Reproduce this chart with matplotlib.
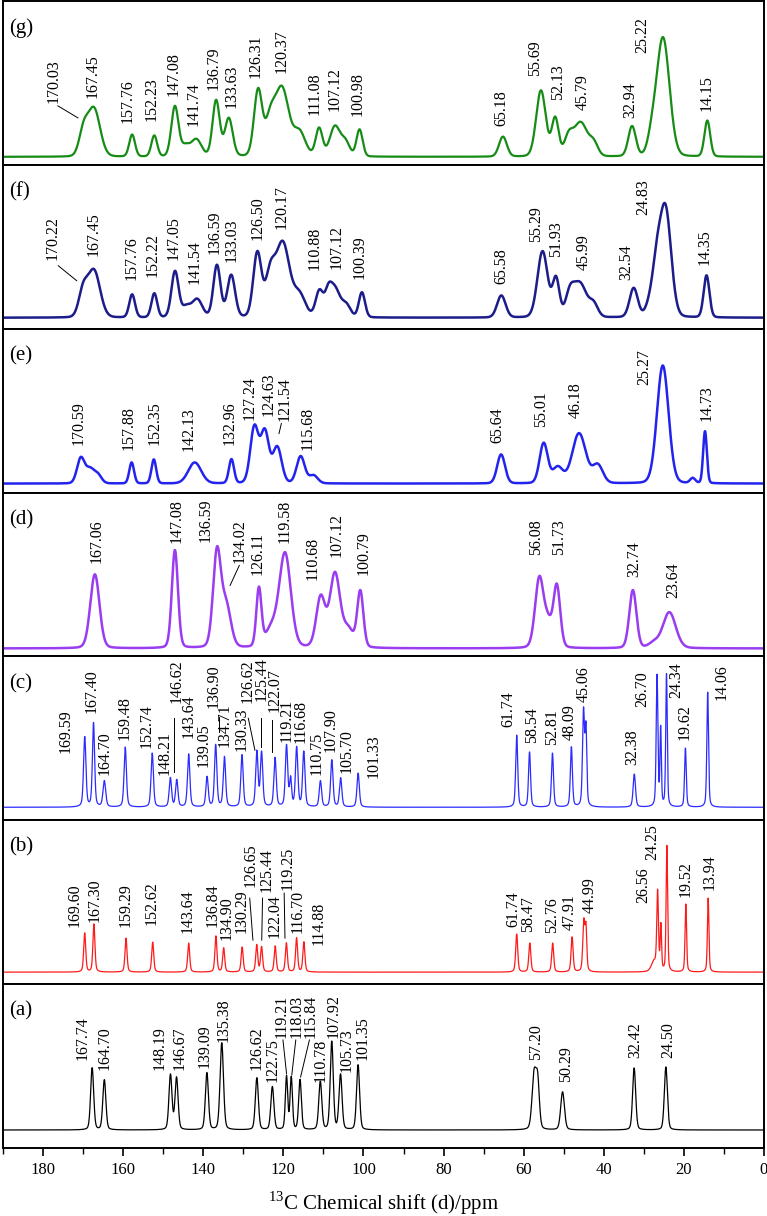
import numpy as np
import matplotlib
matplotlib.use("Agg")
import matplotlib.pyplot as plt
from matplotlib.ticker import MultipleLocator

plt.rcParams['font.family'] = ['Liberation Serif', 'DejaVu Serif']
plt.rcParams['mathtext.fontset'] = 'custom'
plt.rcParams['mathtext.rm'] = 'Liberation Serif'

# peaks: (ppm, height above baseline in px, FWHM in ppm)
G_PEAKS = [(169.9, 24, 2.6), (167.3, 48, 3.6), (157.76, 22, 1.7), (152.23, 21, 1.7),
           (147.08, 50, 2.1), (144.5, 10, 2.5), (141.74, 17, 3.0), (136.79, 56, 2.1),
           (133.63, 38, 2.3), (126.31, 66, 2.4), (123.3, 33, 2.8), (120.37, 68, 4.0),
           (116.0, 24, 3.5), (111.08, 28, 2.0), (107.12, 30, 3.0), (104.5, 14, 2.5),
           (100.98, 27, 1.8), (65.18, 20, 2.3), (55.69, 66, 2.8), (52.13, 38, 2.0),
           (48.8, 18, 2.5), (45.79, 34, 4.0), (42.5, 12, 2.5), (32.94, 30, 2.2),
           (28.0, 15, 2.5), (25.22, 119, 3.8), (14.15, 36, 1.7)]
F_PEAKS = [(170.0, 25, 2.6), (167.3, 47, 3.6), (157.76, 23, 1.7), (152.22, 24, 1.7),
           (147.05, 46, 2.1), (144.3, 10, 2.5), (141.54, 18, 3.0), (136.59, 52, 2.1),
           (133.03, 42, 2.3), (126.50, 64, 2.4), (123.3, 40, 2.8), (120.17, 74, 4.0),
           (116.0, 22, 3.5), (111.0, 26, 2.2), (108.8, 20, 2.0), (107.12, 28, 3.0),
           (104.3, 12, 2.5), (100.39, 25, 1.8), (65.58, 22, 2.5), (55.29, 66, 3.0),
           (51.93, 38, 2.0), (48.5, 20, 2.5), (45.99, 34, 4.0), (42.5, 12, 2.5),
           (32.54, 29, 2.4), (28.5, 12, 2.5), (26.8, 42, 2.5), (24.6, 108, 3.3),
           (14.35, 42, 1.7)]
E_PEAKS = [(170.59, 25, 2.2), (168.3, 14, 2.5), (166.3, 8, 2.2), (157.88, 21, 1.4),
           (152.35, 24, 1.4), (142.13, 21, 3.8), (132.96, 24, 1.5), (127.24, 56, 2.4),
           (124.63, 51, 2.4), (121.54, 36, 2.6), (115.68, 27, 2.4), (112.5, 8, 2.5),
           (65.64, 29, 2.3), (55.01, 40, 2.4), (51.5, 16, 3.0), (46.18, 50, 4.0),
           (41.5, 18, 3.0), (25.27, 118, 3.4), (17.8, 5, 1.5), (14.73, 52, 1.1)]
D_PEAKS = [(167.06, 74, 2.7), (147.08, 98, 1.8), (136.59, 94, 2.3), (134.3, 42, 2.8),
           (126.11, 58, 1.5), (123.0, 18, 3.5), (119.58, 94, 3.4), (110.68, 50, 2.6),
           (107.12, 74, 3.0), (103.8, 18, 3.0), (100.79, 56, 1.8), (56.08, 70, 2.5),
           (53.9, 22, 2.2), (51.73, 62, 2.0), (32.74, 58, 2.1), (27.5, 5, 3.0),
           (23.64, 36, 3.8)]
C_PEAKS = [(169.59, 70, 0.7), (167.40, 84, 0.65), (164.70, 26, 0.8), (159.48, 60, 0.7),
           (152.74, 54, 0.7), (148.21, 29, 0.7), (146.62, 27, 0.7), (143.64, 53, 0.7),
           (139.05, 30, 0.7), (136.90, 62, 0.7), (134.71, 50, 0.7), (130.33, 52, 0.7),
           (126.62, 55, 0.7), (125.44, 54, 0.7), (122.07, 49, 0.7), (119.21, 61, 0.7),
           (118.2, 27, 0.6), (116.68, 59, 0.7), (114.9, 55, 0.7), (110.75, 26, 0.7),
           (107.90, 47, 0.7), (105.70, 29, 0.7), (101.33, 34, 0.7), (61.74, 72, 0.6),
           (58.54, 55, 0.6), (52.81, 54, 0.6), (48.09, 60, 0.6), (45.06, 95, 0.6),
           (44.45, 75, 0.5), (32.38, 33, 0.7), (26.70, 131, 0.5), (25.8, 77, 0.4),
           (24.34, 133, 0.45), (19.62, 59, 0.5), (14.06, 115, 0.5)]
B_PEAKS = [(169.60, 39, 0.6), (167.30, 48, 0.6), (159.29, 34, 0.6), (152.62, 30, 0.6),
           (143.64, 29, 0.6), (136.84, 36, 0.6), (134.90, 24, 0.6), (130.29, 25, 0.6),
           (126.65, 27, 0.6), (125.44, 25, 0.6), (122.04, 26, 0.6), (119.25, 29, 0.6),
           (116.70, 34, 0.6), (114.88, 30, 0.6), (61.74, 38, 0.6), (58.47, 29, 0.6),
           (52.76, 29, 0.6), (47.91, 35, 0.6), (44.99, 50, 0.6), (44.45, 42, 0.5),
           (27.5, 10, 1.5), (26.56, 78, 0.5), (25.75, 45, 0.4), (24.25, 126, 0.45),
           (19.52, 68, 0.45), (13.94, 74, 0.45)]
A_PEAKS = [(167.74, 62, 0.9), (164.70, 50, 0.9), (148.19, 55, 0.9), (146.67, 52, 0.9),
           (139.09, 57, 0.9), (135.38, 87, 1.0), (126.62, 52, 0.9), (122.75, 43, 0.9),
           (119.21, 53, 0.7), (118.03, 52, 0.7), (115.84, 50, 0.8), (110.78, 48, 0.9),
           (107.92, 88, 0.9), (105.73, 55, 0.9), (101.35, 65, 0.9), (57.4, 55, 1.2),
           (56.5, 45, 1.0), (50.29, 38, 1.1), (32.42, 62, 0.9), (24.50, 63, 0.9)]

# peak labels
G_LABELS = ["170.03", "167.45", "157.76", "152.23", "147.08", "141.74", "136.79", "133.63",
            "126.31", "120.37", "111.08", "107.12", "100.98", "65.18", "55.69", "52.13",
            "45.79", "32.94", "25.22", "14.15"]
F_LABELS = ["170.22", "167.45", "157.76", "152.22", "147.05", "141.54", "136.59", "133.03",
            "126.50", "120.17", "110.88", "107.12", "100.39", "65.58", "55.29", "51.93",
            "45.99", "32.54", "24.83", "14.35"]
E_LABELS = ["170.59", "157.88", "152.35", "142.13", "132.96", "127.24", "124.63", "121.54",
            "115.68", "65.64", "55.01", "46.18", "25.27", "14.73"]
D_LABELS = ["167.06", "147.08", "136.59", "134.02", "126.11", "119.58", "110.68", "107.12",
            "100.79", "56.08", "51.73", "32.74", "23.64"]
C_LABELS = ["169.59", "167.40", "164.70", "159.48", "152.74", "148.21", "146.62", "143.64",
            "139.05", "136.90", "134.71", "130.33", "126.62", "125.44", "122.07", "119.21",
            "116.68", "110.75", "107.90", "105.70", "101.33", "61.74", "58.54", "52.81",
            "48.09", "45.06", "32.38", "26.70", "24.34", "19.62", "14.06"]
B_LABELS = ["169.60", "167.30", "159.29", "152.62", "143.64", "136.84", "134.90", "130.29",
            "126.65", "125.44", "122.04", "119.25", "116.70", "114.88", "61.74", "58.47",
            "52.76", "47.91", "44.99", "26.56", "24.25", "19.52", "13.94"]
A_LABELS = ["167.74", "164.70", "148.19", "146.67", "139.09", "135.38", "126.62", "122.75",
            "119.21", "118.03", "115.84", "110.78", "107.92", "105.73", "101.35", "57.20",
            "50.29", "32.42", "24.50"]

# label placement (x in ppm, y of text bottom in px above baseline)
G_POS = [(177.3, 54), (167.6, 59), (158.8, 34), (152.9, 36), (147.3, 61), (142.5, 31),
         (137.5, 67), (132.9, 49), (126.8, 79), (120.4, 84), (112.1, 42), (107.1, 46),
         (101.4, 41), (65.5, 31), (57.2, 81), (51.4, 57), (45.3, 47), (33.4, 39),
         (30.5, 104), (14.3, 46)]
F_POS = [(177.5, 58), (167.45, 62), (157.8, 38), (152.6, 41), (147.5, 58), (142.1, 34),
         (137.1, 64), (132.8, 56), (126.4, 78), (120.4, 89), (112.3, 48), (106.7, 49),
         (100.9, 39), (65.5, 34), (56.8, 76), (51.8, 61), (45.1, 48), (34.3, 38),
         (30.1, 103), (14.7, 53)]
E_POS = [(171.1, 39), (158.6, 34), (152.1, 39), (143.7, 33), (133.4, 39), (128.4, 64),
         (123.8, 68), (119.6, 63), (113.9, 34), (66.5, 41), (55.7, 57), (46.9, 66),
         (30.0, 99), (14.3, 63)]
D_POS = [(166.6, 85), (146.6, 105), (139.4, 106), (130.8, 85), (126.3, 73), (119.6, 105),
         (112.8, 68), (106.8, 91), (99.9, 73), (56.9, 93), (51.2, 93), (32.4, 71),
         (22.6, 50)]
C_POS = [(174.35, 54), (167.9, 94), (164.5, 32), (159.7, 67), (154.1, 59), (149.55, 32),
         (146.6, 104), (143.7, 69), (139.8, 40), (137.5, 99), (134.6, 60), (130.4, 56),
         (128.9, 104), (125.5, 106), (122.1, 95), (119.3, 65), (115.8, 64), (111.7, 32),
         (108.1, 55), (104.2, 34), (97.4, 29), (63.8, 80), (58.0, 64), (53.0, 62),
         (48.6, 67), (45.1, 105), (32.9, 42), (30.5, 100), (21.8, 109), (19.7, 67),
         (10.55, 107)]
B_POS = [(172.0, 45), (167.0, 50), (159.5, 45), (152.9, 47), (144.0, 39), (137.6, 45),
         (134.1, 32), (130.4, 39), (128.2, 85), (124.2, 80), (122.3, 34), (119.0, 82),
         (116.4, 39), (111.3, 27), (62.6, 45), (58.8, 40), (53.0, 39), (48.6, 42),
         (43.4, 59), (30.1, 69), (27.8, 112), (19.5, 75), (13.5, 82)]
A_POS = [(170.1, 70), (164.6, 60), (150.8, 60), (145.9, 60), (139.6, 62), (134.9, 88),
         (126.7, 60), (122.8, 48), (120.4, 92), (116.7, 92), (113.2, 92), (110.6, 48),
         (107.5, 92), (104.2, 58), (100.2, 70), (56.9, 70), (49.3, 48), (32.2, 72),
         (23.8, 72)]

# leader lines from labels to peaks
G_LINES = [((176.3, 51), (171.3, 39))]
F_LINES = [((176.2, 52), (171.6, 37))]
E_LINES = [((121.1, 50), (120.5, 60))]
D_LINES = [((131.0, 83), (133.3, 63))]
C_LINES = [((147.3, 89), (147.3, 35)), ((136.1, 90), (136.1, 75)),
           ((128.75, 89), (127.1, 57)), ((125.66, 89), (125.66, 60)),
           ((122.9, 87), (122.9, 55))]
B_LINES = [((128.4, 74), (127.6, 32)), ((125.2, 74), (125.4, 32)),
           ((119.8, 79), (119.6, 34))]
A_LINES = [((120.1, 90), (119.2, 56)), ((116.9, 90), (117.9, 55)),
           ((113.5, 90), (115.7, 53))]

PANEL_NAMES = ["(g)", "(f)", "(e)", "(d)", "(c)", "(b)", "(a)"]


def spectrum(x, peaks, eta):
    y = np.zeros_like(x)
    for p, h, w in peaks:
        u = (x - p) / w
        y += h * ((1 - eta) * np.exp(-4 * np.log(2) * u ** 2) + eta / (1 + 4 * u ** 2))
    return y


panels = [
    (G_PEAKS, G_LABELS, G_POS, G_LINES, "#168c16", 1.6, 8, 0.1),
    (F_PEAKS, F_LABELS, F_POS, F_LINES, "#1c1c8a", 1.8, 11, 0.1),
    (E_PEAKS, E_LABELS, E_POS, E_LINES, "#2323ee", 1.8, 9, 0.1),
    (D_PEAKS, D_LABELS, D_POS, D_LINES, "#9a3cf0", 1.8, 8, 0.15),
    (C_PEAKS, C_LABELS, C_POS, C_LINES, "#2b2bff", 0.9, 13, 0.4),
    (B_PEAKS, B_LABELS, B_POS, B_LINES, "#ff1a1a", 0.9, 12, 0.4),
    (A_PEAKS, A_LABELS, A_POS, A_LINES, "black", 0.9, 18, 0.25),
]

W, H = 767, 1216
fig = plt.figure(figsize=(W / 100, H / 100), dpi=100)
top, bottom = 1, 1148
ph = (bottom - top) / len(panels)
x = np.linspace(190, 0, 6000)

axes = []
for i, (peaks, labels, pos, lines, color, lw, base, eta) in enumerate(panels):
    y0 = top + (i + 1) * ph
    ax = fig.add_axes([3 / W, 1 - y0 / H, 761 / W, ph / H])
    ax.plot(x, spectrum(x, peaks, eta), color=color, lw=lw)
    for txt, (lx, ly) in zip(labels, pos):
        ax.text(lx, ly, txt, rotation=90, ha='center', va='bottom', fontsize=11.5)
    for (x1, y1), (x2, y2) in lines:
        ax.plot([x1, x2], [y1, y2], color='black', lw=0.7)
    ax.text(0.008, 1 - 27 / ph, PANEL_NAMES[i], transform=ax.transAxes,
            fontsize=15, ha='left', va='center')
    ax.set_xlim(190, 0)
    ax.set_ylim(-base, ph - base)
    ax.set_yticks([])
    for s in ax.spines.values():
        s.set_linewidth(1.4)
    if i < len(panels) - 1:
        ax.tick_params(axis='x', bottom=False, labelbottom=False)
    axes.append(ax)

ax = axes[-1]
ax.xaxis.set_major_locator(MultipleLocator(20))
ax.xaxis.set_minor_locator(MultipleLocator(10))
ax.tick_params(axis='x', which='major', direction='out', length=6, width=1.2,
               labelsize=12, pad=4)
ax.tick_params(axis='x', which='minor', direction='out', length=4, width=1.0)
ax.set_xlabel("$^{13}$C Chemical shift (d)/ppm", fontsize=15, labelpad=8)

fig.savefig("out.png", dpi=100)
